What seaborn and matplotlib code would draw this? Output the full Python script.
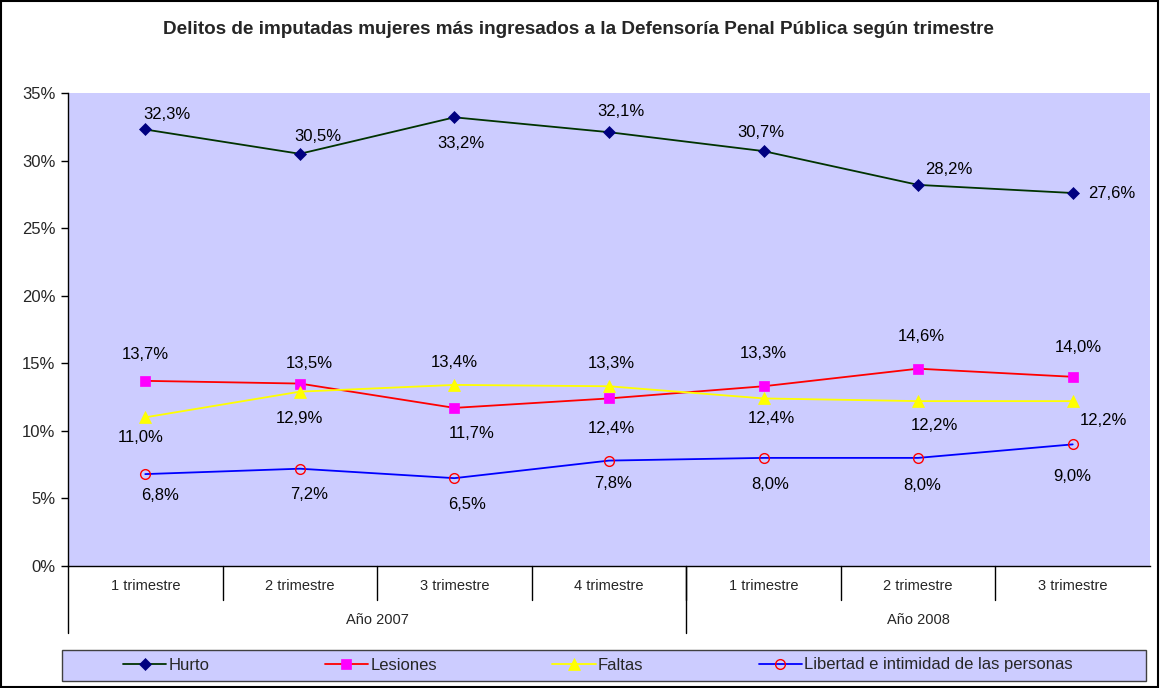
import pandas as pd
import seaborn as sns
import matplotlib
matplotlib.use("Agg")
import matplotlib.pyplot as plt
from matplotlib.patches import Rectangle

# Data
trimestres = ['1 trimestre', '2 trimestre', '3 trimestre', '4 trimestre',
              '1 trimestre', '2 trimestre', '3 trimestre']
years = ['Año 2007', 'Año 2008']
year_sizes = [4, 3]
hurto = [32.3, 30.5, 33.2, 32.1, 30.7, 28.2, 27.6]
lesiones = [13.7, 13.5, 11.7, 12.4, 13.3, 14.6, 14.0]
faltas = [11.0, 12.9, 13.4, 13.3, 12.4, 12.2, 12.2]
libertad = [6.8, 7.2, 6.5, 7.8, 8.0, 8.0, 9.0]
series_names = ['Hurto', 'Lesiones', 'Faltas', 'Libertad e intimidad de las personas']

title = 'Delitos de imputadas mujeres más ingresados a la Defensoría Penal Pública según trimestre'

# label offsets in pixels (dx, dy upward positive)
offsets = {
    'Hurto': [(22, 15), (18, 17), (7, -26), (12, 21), (-3, 19), (31, 15), (39, 0)],
    'Lesiones': [(0, 26), (9, 20), (17, -26), (2, -30), (0, 33), (3, 32), (6, 29)],
    'Faltas': [(-5, -20), (0, -27), (0, 22), (2, 23), (8, -20), (16, -24), (31, -19)],
    'Libertad e intimidad de las personas': [(15, -21), (9, -26), (13, -26), (4, -23),
                                             (7, -27), (4, -28), (0, -32)],
}

styles = {
    'Hurto': dict(color='#003300', marker='D', markersize=6, markerfacecolor='#000080',
                  markeredgecolor='#000080', markeredgewidth=0.5),
    'Lesiones': dict(color='#FF0000', marker='s', markersize=7, markerfacecolor='#FF00FF',
                     markeredgecolor='#FF00FF', markeredgewidth=0.5),
    'Faltas': dict(color='#FFFF00', marker='^', markersize=9, markerfacecolor='#FFFF00',
                   markeredgecolor='#FFFF00', markeredgewidth=0.5),
    'Libertad e intimidad de las personas': dict(color='#0000FF', marker='o', markersize=7,
                                                 markerfacecolor='none',
                                                 markeredgecolor='#FF0000',
                                                 markeredgewidth=1.0),
}

sns.set_style('white')
plt.rcParams['font.family'] = ['Liberation Sans', 'DejaVu Sans']

fig = plt.figure(figsize=(11.6, 6.88), dpi=100)
ax = fig.add_axes([68 / 1160, 1 - 566 / 688, (1150 - 68) / 1160, (566 - 93) / 688])
ax.set_facecolor('#CCCCFF')

pos = list(range(len(trimestres)))
all_values = [hurto, lesiones, faltas, libertad]
handles = []
for name, vals in zip(series_names, all_values):
    sns.lineplot(x=pos, y=vals, ax=ax, linewidth=1.3, label=name, legend=False,
                 **styles[name])
    handles.append(ax.get_lines()[-1])
    for i, v in enumerate(vals):
        dx, dy = offsets[name][i]
        ax.annotate(f'{v:.1f}%'.replace('.', ','), (i, v), xytext=(dx, dy),
                    textcoords='offset pixels', ha='center', va='center',
                    fontsize=12, color='black')

ax.set_xlim(-0.5, len(trimestres) - 0.5)
ax.set_ylim(0, 35)
ax.set_yticks(range(0, 36, 5))
ax.set_yticklabels([f'{t}%' for t in range(0, 36, 5)], fontsize=12)
ax.set_xticks([])
ax.tick_params(axis='y', left=True, length=5, width=1, color='black', pad=4)
for s in ['top', 'right']:
    ax.spines[s].set_visible(False)
for s in ['left', 'bottom']:
    ax.spines[s].set_color('black')
    ax.spines[s].set_linewidth(1.0)

# multi-level category axis
trans = ax.get_xaxis_transform()
h = 566 - 93
for i, lab in enumerate(trimestres):
    ax.text(i, -20 / h, lab, transform=trans, ha='center', va='center', fontsize=10.5)
    if i > 0:
        ax.plot([i - 0.5, i - 0.5], [0, -34 / h], transform=trans, color='black',
                lw=1, clip_on=False)
start = 0
for yr, n in zip(years, year_sizes):
    ax.text(start + n / 2 - 0.5, -54 / h, yr, transform=trans, ha='center',
            va='center', fontsize=10.5)
    ax.plot([start - 0.5, start - 0.5], [0, -67 / h], transform=trans,
            color='black', lw=1, clip_on=False)
    start += n

fig.text(578 / 1160, 1 - 30 / 688, title, ha='center', va='center', fontsize=13.6,
         fontweight='bold')

# legend box
fig.patches.append(Rectangle((62 / 1160, 1 - 681 / 688), (1146 - 62) / 1160, 31 / 688,
                             transform=fig.transFigure, facecolor='#CCCCFF',
                             edgecolor='#404040', linewidth=1.0, zorder=0))
fig.legend(handles=handles, labels=series_names, ncol=4,
           bbox_to_anchor=(598 / 1160, 1 - 665 / 688), loc='center', fontsize=12,
           frameon=False, handlelength=2.6, handletextpad=0.15, columnspacing=6.9,
           borderaxespad=0, borderpad=0)

fig.patches.append(Rectangle((0.001, 0.0015), 0.997, 0.997, transform=fig.transFigure,
                             fill=False, edgecolor='black', linewidth=1.5))

fig.savefig('out.png', dpi=100, facecolor='white')
